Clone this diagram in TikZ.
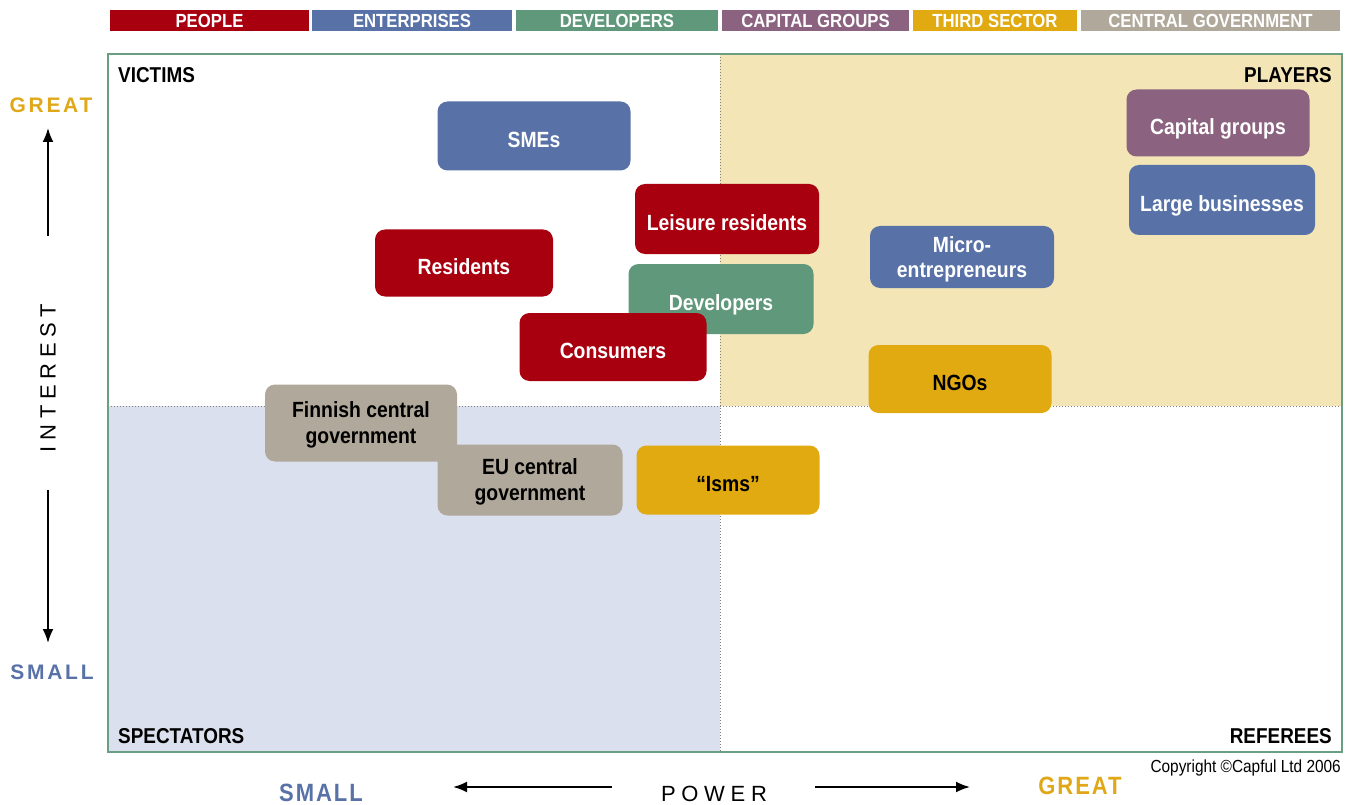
\documentclass[tikz,border=0pt]{standalone}
\usepackage{fontspec}
\setmainfont{Liberation Sans}[FakeStretch=0.88]
\newfontfamily\spacedfont{Liberation Sans}[LetterSpace=26]
\newfontfamily\greatfont{Liberation Sans}[LetterSpace=13]
\newfontfamily\scalefont{Liberation Sans}[FakeStretch=0.88, LetterSpace=8]
\usetikzlibrary{arrows.meta}
\definecolor{people}{HTML}{A8000F}
\definecolor{enterprise}{HTML}{5872A8}
\definecolor{developer}{HTML}{5F987A}
\definecolor{capital}{HTML}{8B6380}
\definecolor{thirdsector}{HTML}{E0AA10}
\definecolor{government}{HTML}{B0A89A}
\definecolor{framegreen}{HTML}{6A9E82}
\definecolor{playersbg}{HTML}{F3E5B6}
\definecolor{spectatorsbg}{HTML}{DAE0ED}
\definecolor{great}{HTML}{E0A818}
\definecolor{small}{HTML}{5872A8}
\tikzset{
  actor/.style={rectangle, rounded corners=10pt, minimum width=185pt, minimum height=69pt, align=center, text=white, font=\fontsize{22}{26}\selectfont\bfseries, inner sep=2pt, text depth=0pt, execute at begin node={\rule{0pt}{22.5pt}}},
  legend/.style={rectangle, minimum height=21pt, text=white, font=\fontsize{19}{19}\selectfont\bfseries, inner sep=0pt},
  quadrant/.style={font=\fontsize{21.5}{21.5}\selectfont\bfseries, inner sep=0pt},
  axis/.style={-{Latex[length=14pt,width=11pt]}, line width=2pt}
}
\begin{document}
\begin{tikzpicture}[x=1pt, y=-1pt]
  \useasboundingbox (0,0) rectangle (1352,805);
  % Quadrants
  \fill[playersbg] (720,54) rectangle (1342,406);
  \fill[spectatorsbg] (108,406) rectangle (720,752);
  \draw[gray, dotted, line width=1pt] (720,54) -- (720,752);
  \draw[gray, dotted, line width=1pt] (108,406) -- (1342,406);
  \draw[framegreen, line width=2.5pt] (108,54) rectangle (1342,752);
  \node (victims) [quadrant, anchor=west] at (118,75) {VICTIMS};
  \node (players) [quadrant, anchor=east] at (1332,75) {PLAYERS};
  \node (spectators) [quadrant, anchor=west] at (118,736) {SPECTATORS};
  \node (referees) [quadrant, anchor=east] at (1332,736) {REFEREES};
  % Legend
  \node (lpeople) [legend, fill=people, minimum width=199pt] at (209.5,20.5) {PEOPLE};
  \node (lenterprises) [legend, fill=enterprise, minimum width=200pt] at (412,20.5) {ENTERPRISES};
  \node (ldevelopers) [legend, fill=developer, minimum width=202pt] at (617,20.5) {DEVELOPERS};
  \node (lcapital) [legend, fill=capital, minimum width=187pt] at (815.5,20.5) {CAPITAL GROUPS};
  \node (lthird) [legend, fill=thirdsector, minimum width=164pt] at (995,20.5) {THIRD SECTOR};
  \node (lgovernment) [legend, fill=government, minimum width=259pt] at (1210.5,20.5) {CENTRAL GOVERNMENT};
  % Nodes
  \node (smes) [actor, fill=enterprise, minimum width=193pt] at (534,136) {SMEs};
  \node (leisure) [actor, fill=people, minimum width=184pt, minimum height=70pt] at (727,219) {Leisure residents};
  \node (residents) [actor, fill=people, minimum width=178pt, minimum height=67pt] at (464,263) {Residents};
  \node (developers) [actor, fill=developer, minimum height=70pt] at (721,299) {Developers};
  \node (consumers) [actor, fill=people, minimum width=187pt, minimum height=68pt] at (613,347) {Consumers};
  \node (capital) [actor, fill=capital, minimum width=183pt, minimum height=67pt] at (1218,123) {Capital groups};
  \node (large) [actor, fill=enterprise, minimum width=186pt, minimum height=70pt] at (1222,200) {Large businesses};
  \node (micro) [actor, fill=enterprise, minimum width=184pt, minimum height=62pt, font=\fontsize{22}{25}\selectfont\bfseries] at (962,257) {Micro-\\entrepreneurs};
  \node (ngos) [actor, fill=thirdsector, text=black, minimum width=183pt, minimum height=68pt] at (960,379) {NGOs};
  \node (finnish) [actor, fill=government, text=black, minimum width=192pt, minimum height=77pt] at (361,423) {Finnish central\\government};
  \node (eu) [actor, fill=government, text=black, minimum height=71pt] at (530,480) {EU central\\government};
  \node (isms) [actor, fill=thirdsector, text=black, minimum width=183pt] at (728,480) {``Isms''};
  % Axes
  \node (greatY) [font=\greatfont\fontsize{21}{21}\selectfont\bfseries, text=great, inner sep=0pt] at (51,105) {GREAT};
  \node (smallY) [font=\greatfont\fontsize{21}{21}\selectfont\bfseries, text=small, inner sep=0pt] at (52,672) {SMALL};
  \node (interest) [rotate=90, font=\spacedfont\fontsize{22}{22}\selectfont, inner sep=0pt] at (48,378) {INTEREST};
  \node (power) [font=\spacedfont\fontsize{22}{22}\selectfont, inner sep=0pt] at (714,794) {POWER};
  \node (smallX) [font=\scalefont\fontsize{25}{25}\selectfont\bfseries, text=small, inner sep=0pt] at (321,793) {SMALL};
  \node (greatX) [font=\scalefont\fontsize{25}{25}\selectfont\bfseries, text=great, inner sep=0pt] at (1080,786) {GREAT};
  \node (copyright) [anchor=east, font=\fontsize{17.5}{17.5}\selectfont, inner sep=0pt] at (1341,768) {Copyright ©Capful Ltd 2006};
  % Arrow
  \coordinate (upFrom) at (48,236);
  \coordinate (upTo) at (48,128);
  \coordinate (downFrom) at (48,490);
  \coordinate (downTo) at (48,643);
  \coordinate (leftFrom) at (612,787);
  \coordinate (leftTo) at (453,787);
  \coordinate (rightFrom) at (815,787);
  \coordinate (rightTo) at (970,787);
  \draw[axis] (upFrom) -- (upTo);
  \draw[axis] (downFrom) -- (downTo);
  \draw[axis] (leftFrom) -- (leftTo);
  \draw[axis] (rightFrom) -- (rightTo);
\end{tikzpicture}
\end{document}
